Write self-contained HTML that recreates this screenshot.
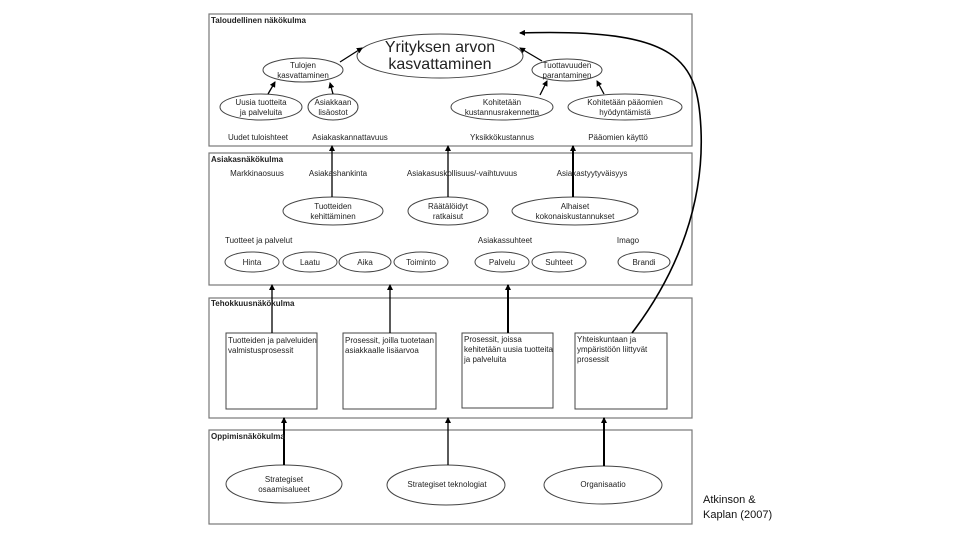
<!DOCTYPE html>
<html><head><meta charset="utf-8"><style>
html,body{margin:0;padding:0;background:#fff;}
svg{display:block;font-family:"Liberation Sans",Arial,sans-serif;}
</style></head><body>
<svg width="960" height="540" viewBox="0 0 960 540" xmlns="http://www.w3.org/2000/svg">
<defs><marker id="a" markerWidth="6" markerHeight="6" refX="5" refY="3" orient="auto" markerUnits="userSpaceOnUse"><path d="M0,0 L6,3 L0,6z" fill="#000"/></marker></defs>
<g fill="none" stroke="#777" stroke-width="1.2">
<rect x="209" y="14" width="483" height="132"/>
<rect x="209" y="153" width="483" height="132"/>
<rect x="209" y="298" width="483" height="120"/>
<rect x="209" y="430" width="483" height="94"/>
</g>
<g fill="#fff" stroke="#444" stroke-width="1">
<ellipse cx="440" cy="56" rx="83" ry="22"/>
<ellipse cx="303" cy="70" rx="40" ry="12"/>
<ellipse cx="261" cy="107" rx="41" ry="13"/>
<ellipse cx="333" cy="107" rx="25" ry="13"/>
<ellipse cx="567" cy="70" rx="35" ry="11"/>
<ellipse cx="502" cy="107" rx="51" ry="13"/>
<ellipse cx="625" cy="107" rx="57" ry="13"/>
<ellipse cx="333" cy="211" rx="50" ry="14"/>
<ellipse cx="448" cy="211" rx="40" ry="14"/>
<ellipse cx="575" cy="211" rx="63" ry="14"/>
<ellipse cx="252" cy="262" rx="27" ry="10"/>
<ellipse cx="310" cy="262" rx="27" ry="10"/>
<ellipse cx="365" cy="262" rx="26" ry="10"/>
<ellipse cx="421" cy="262" rx="27" ry="10"/>
<ellipse cx="502" cy="262" rx="27" ry="10"/>
<ellipse cx="559" cy="262" rx="27" ry="10"/>
<ellipse cx="644" cy="262" rx="26" ry="10"/>
<rect x="226" y="333" width="91" height="76"/>
<rect x="343" y="333" width="93" height="76"/>
<rect x="462" y="333" width="91" height="75"/>
<rect x="575" y="333" width="92" height="76"/>
<ellipse cx="284" cy="484" rx="58" ry="19"/>
<ellipse cx="446" cy="485" rx="59" ry="20"/>
<ellipse cx="603" cy="485" rx="59" ry="19"/>
</g>
<g stroke="#000" stroke-width="1.3" marker-end="url(#a)" fill="none">
<line x1="340" y1="62" x2="362" y2="48"/>
<line x1="542" y1="61" x2="520" y2="48"/>
<line x1="268" y1="94" x2="275" y2="82"/>
<line x1="333" y1="94" x2="330" y2="83"/>
<line x1="540" y1="95" x2="547" y2="81"/>
<line x1="604" y1="94" x2="597" y2="81"/>
<line x1="332" y1="197" x2="332" y2="146"/>
<line x1="448" y1="197" x2="448" y2="146"/>
<line x1="573" y1="197" x2="573" y2="146" stroke-width="2"/>
<line x1="272" y1="333" x2="272" y2="285"/>
<line x1="390" y1="333" x2="390" y2="285"/>
<line x1="508" y1="333" x2="508" y2="285" stroke-width="2"/>
<line x1="284" y1="465" x2="284" y2="418" stroke-width="2"/>
<line x1="448" y1="465" x2="448" y2="418"/>
<line x1="604" y1="466" x2="604" y2="418" stroke-width="2"/>
<path d="M632,333 C680,270 704,200 701,130 C698,60 680,28 520,33" stroke-width="1.6"/>
</g>
<g font-size="8" fill="#222" text-anchor="middle">
<text x="211" y="23" text-anchor="start" font-weight="bold">Taloudellinen näkökulma</text>
<text x="440" y="52" font-size="16">Yrityksen arvon</text>
<text x="440" y="69" font-size="16">kasvattaminen</text>
<text x="303" y="68">Tulojen</text><text x="303" y="78">kasvattaminen</text>
<text x="261" y="105">Uusia tuotteita</text><text x="261" y="115">ja palveluita</text>
<text x="333" y="105">Asiakkaan</text><text x="333" y="115">lisäostot</text>
<text x="567" y="68">Tuottavuuden</text><text x="567" y="78">parantaminen</text>
<text x="502" y="105">Kohitetään</text><text x="502" y="115">kustannusrakennetta</text>
<text x="625" y="105">Kohitetään pääomien</text><text x="625" y="115">hyödyntämistä</text>
<text x="258" y="140">Uudet tuloishteet</text>
<text x="350" y="140">Asiakaskannattavuus</text>
<text x="502" y="140">Yksikkökustannus</text>
<text x="618" y="140">Pääomien käyttö</text>
<text x="211" y="162" text-anchor="start" font-weight="bold">Asiakasnäkökulma</text>
<text x="257" y="176">Markkinaosuus</text>
<text x="338" y="176">Asiakashankinta</text>
<text x="462" y="176">Asiakasuskollisuus/-vaihtuvuus</text>
<text x="592" y="176">Asiakastyytyväisyys</text>
<text x="333" y="209">Tuotteiden</text><text x="333" y="219">kehittäminen</text>
<text x="448" y="209">Räätälöidyt</text><text x="448" y="219">ratkaisut</text>
<text x="575" y="209">Alhaiset</text><text x="575" y="219">kokonaiskustannukset</text>
<text x="225" y="243" text-anchor="start">Tuotteet ja palvelut</text>
<text x="505" y="243">Asiakassuhteet</text>
<text x="628" y="243">Imago</text>
<text x="252" y="265">Hinta</text><text x="310" y="265">Laatu</text><text x="365" y="265">Aika</text><text x="421" y="265">Toiminto</text>
<text x="502" y="265">Palvelu</text><text x="559" y="265">Suhteet</text><text x="644" y="265">Brandi</text>
<text x="211" y="306" text-anchor="start" font-weight="bold">Tehokkuusnäkökulma</text>
<g text-anchor="start">
<text x="228" y="343">Tuotteiden ja palveluiden</text><text x="228" y="353">valmistusprosessit</text>
<text x="345" y="343">Prosessit, joilla tuotetaan</text><text x="345" y="353">asiakkaalle lisäarvoa</text>
<text x="464" y="342">Prosessit, joissa</text><text x="464" y="352">kehitetään uusia tuotteita</text><text x="464" y="362">ja palveluita</text>
<text x="577" y="342">Yhteiskuntaan ja</text><text x="577" y="352">ympäristöön liittyvät</text><text x="577" y="362">prosessit</text>
</g>
<text x="211" y="439" text-anchor="start" font-weight="bold">Oppimisnäkökulma</text>
<text x="284" y="482">Strategiset</text><text x="284" y="492">osaamisalueet</text>
<text x="447" y="487">Strategiset teknologiat</text>
<text x="603" y="487">Organisaatio</text>
</g>
<text x="703" y="503" font-size="11" fill="#111">Atkinson &amp;</text>
<text x="703" y="518" font-size="11" fill="#111">Kaplan (2007)</text>
</svg>
</body></html>
